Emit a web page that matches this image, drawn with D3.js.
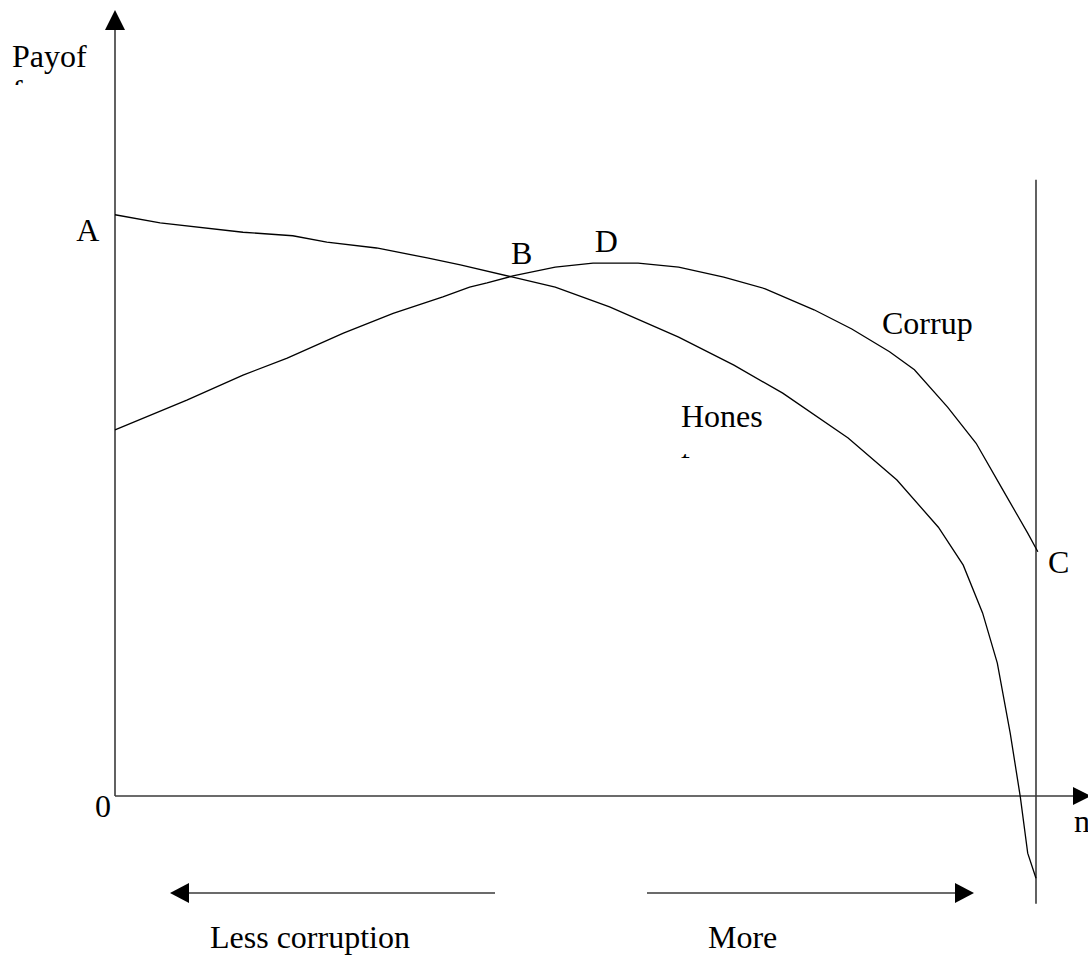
<!DOCTYPE html>
<html>
<head>
<meta charset="utf-8">
<script src="https://cdn.jsdelivr.net/npm/d3@7"></script>
<style>
  body { margin: 0; background: #fff; }
  svg text { font-family: "Liberation Serif", "Times New Roman", serif; font-size: 32px; fill: #000; }
</style>
</head>
<body>
<svg id="chart" width="1088" height="956"></svg>
<script>
// n (share of corrupt agents, 0..100) and payoff values
var honestN   = [0, 4.9, 13.9, 19.3, 23.0, 28.4, 33.9, 37.5, 43.2, 47.8, 53.7, 61.2, 67.2, 72.5, 79.6, 84.9, 89.4, 92.1, 94.2, 95.8, 97.2, 98.3, 99.1, 100];
var honestPay = [99.7, 98.3, 96.7, 96.1, 95.0, 94.0, 92.3, 91.1, 89.0, 87.3, 83.9, 78.7, 73.9, 69.1, 61.4, 54.2, 46.1, 39.6, 31.4, 22.8, 10.8, -0.2, -9.8, -14.1];

var corruptN   = [0, 7.8, 13.9, 18.7, 24.8, 30.2, 35.6, 38.5, 40.4, 43.2, 47.8, 51.9, 56.8, 61.2, 66.1, 70.6, 75.9, 80.0, 84.1, 86.8, 90.4, 93.5, 96.4, 99.1, 100.2];
var corruptPay = [62.8, 67.9, 72.2, 75.1, 79.4, 82.8, 85.6, 87.3, 88.0, 89.2, 90.7, 91.4, 91.4, 90.7, 89.0, 87.0, 83.4, 80.1, 76.2, 73.1, 66.7, 60.5, 52.5, 45.1, 41.9];

// point labels
var pointNames = ["A", "B", "D", "C"];
var pointN     = [-4.2, 43.0, 52.1, 101.3];
var pointPay   = [95.2, 91.2, 93.3, 38.3];

var svg = d3.select("#chart");

var x = d3.scaleLinear().domain([0, 100]).range([115, 1036]);
var y = d3.scaleLinear().domain([0, 100]).range([796, 213]);

function zip(a, b) {
    return a.map(function (v, i) { return [v, b[i]]; });
}

var line = d3.line()
    .x(function (d) { return x(d[0]); })
    .y(function (d) { return y(d[1]); });

var defs = svg.append("defs");
defs.append("clipPath").attr("id", "clipPay")
    .append("rect").attr("x", 0).attr("y", 0).attr("width", 200).attr("height", 85);
defs.append("clipPath").attr("id", "clipHon")
    .append("rect").attr("x", 600).attr("y", 380).attr("width", 300).attr("height", 78);

var axisColor = "#3a3a3a";

// axes
svg.append("line")
    .attr("x1", x(0)).attr("y1", y(0))
    .attr("x2", x(0)).attr("y2", 28)
    .attr("stroke", axisColor).attr("stroke-width", 1.6);
svg.append("path")
    .attr("d", d3.line()([[x(0), 10], [x(0) - 10, 30], [x(0) + 10, 30]]) + "Z")
    .attr("fill", "#000");

svg.append("line")
    .attr("x1", x(0)).attr("y1", y(0))
    .attr("x2", 1075).attr("y2", y(0))
    .attr("stroke", axisColor).attr("stroke-width", 1.6);
svg.append("path")
    .attr("d", d3.line()([[1091, y(0)], [1073, y(0) - 9], [1073, y(0) + 9]]) + "Z")
    .attr("fill", "#000");

// vertical line at n = 100
svg.append("line")
    .attr("x1", x(100)).attr("y1", y(105.7))
    .attr("x2", x(100)).attr("y2", y(-18.5))
    .attr("stroke", axisColor).attr("stroke-width", 1.6);

// curves
svg.append("path")
    .datum(zip(honestN, honestPay))
    .attr("d", line)
    .attr("fill", "none").attr("stroke", "#000").attr("stroke-width", 1.3);
svg.append("path")
    .datum(zip(corruptN, corruptPay))
    .attr("d", line)
    .attr("fill", "none").attr("stroke", "#000").attr("stroke-width", 1.3);

// point labels
svg.selectAll(".pt")
    .data(pointNames)
    .enter().append("text")
    .attr("class", "pt")
    .attr("x", function (d, i) { return x(pointN[i]); })
    .attr("y", function (d, i) { return y(pointPay[i]); })
    .text(function (d) { return d; });

svg.append("text").attr("x", 95).attr("y", 817).text("0");
svg.append("text").attr("x", 1074).attr("y", 832).text("n");

// axis title, wrapped and clipped like the original
var pay = svg.append("g").attr("clip-path", "url(#clipPay)");
pay.append("text").attr("x", 12).attr("y", 67).text("Payof");
pay.append("text").attr("x", 12).attr("y", 102).text("f");

// curve names
svg.append("text").attr("x", 882).attr("y", 334).text("Corrup");
var hon = svg.append("g").attr("clip-path", "url(#clipHon)");
hon.append("text").attr("x", 681).attr("y", 427).text("Hones");
hon.append("text").attr("x", 681).attr("y", 472).text("t");

// direction arrows
var arrowY = 893;
svg.append("line")
    .attr("x1", 188).attr("y1", arrowY).attr("x2", 495).attr("y2", arrowY)
    .attr("stroke", axisColor).attr("stroke-width", 1.6);
svg.append("path")
    .attr("d", d3.line()([[170, arrowY], [189, arrowY - 10], [189, arrowY + 10]]) + "Z")
    .attr("fill", "#000");
svg.append("line")
    .attr("x1", 647).attr("y1", arrowY).attr("x2", 956).attr("y2", arrowY)
    .attr("stroke", axisColor).attr("stroke-width", 1.6);
svg.append("path")
    .attr("d", d3.line()([[974, arrowY], [955, arrowY - 10], [955, arrowY + 10]]) + "Z")
    .attr("fill", "#000");

svg.append("text").attr("x", 210).attr("y", 948).text("Less corruption");
svg.append("text").attr("x", 708).attr("y", 948).text("More");
</script>
</body>
</html>
